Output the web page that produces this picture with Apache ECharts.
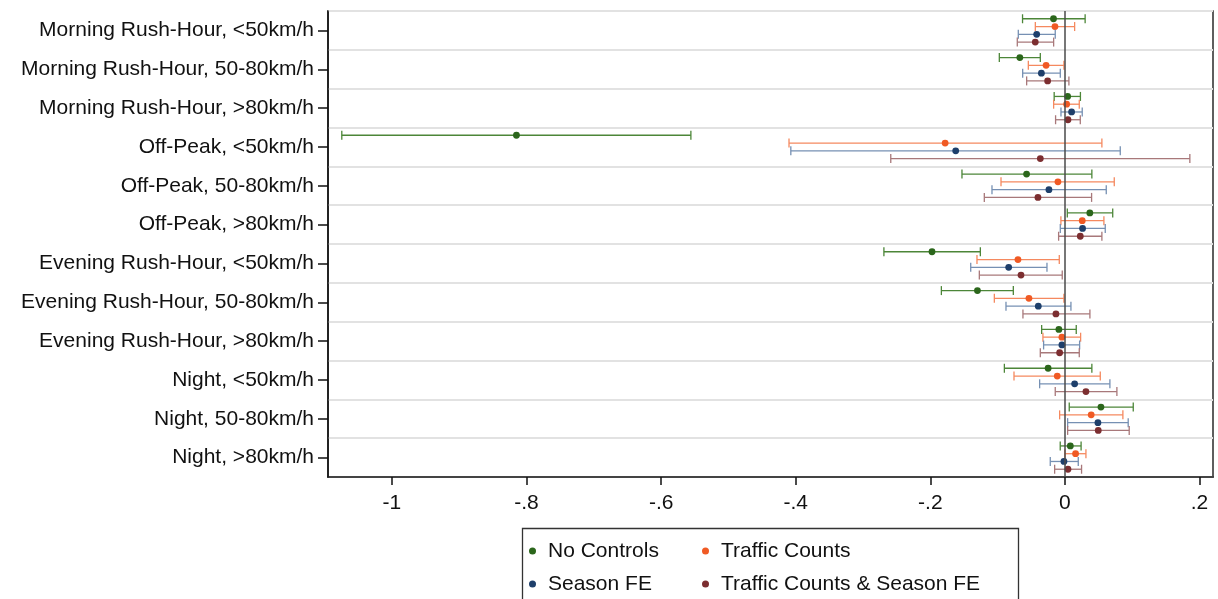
<!DOCTYPE html>
<html>
<head>
<meta charset="utf-8">
<style>
  html, body { margin: 0; padding: 0; background: #fff; }
  #chart { width: 1218px; height: 599px; }
</style>
<script src="https://cdn.jsdelivr.net/npm/echarts@6/dist/echarts.min.js"></script>
</head>
<body>
<div id="chart"></div>
<script>
  const categories = [
    'Morning Rush-Hour, <50km/h',
    'Morning Rush-Hour, 50-80km/h',
    'Morning Rush-Hour, >80km/h',
    'Off-Peak, <50km/h',
    'Off-Peak, 50-80km/h',
    'Off-Peak, >80km/h',
    'Evening Rush-Hour, <50km/h',
    'Evening Rush-Hour, 50-80km/h',
    'Evening Rush-Hour, >80km/h',
    'Night, <50km/h',
    'Night, 50-80km/h',
    'Night, >80km/h'
  ]

  const xTicks = [-1, -0.8, -0.6, -0.4, -0.2, 0, 0.2]

  // No Controls
  const ncEst = [-0.017, -0.067, 0.004, -0.815, -0.057, 0.037, -0.1975, -0.130, -0.009, -0.025, 0.0535, 0.008]
  const ncLo = [-0.063, -0.0975, -0.016, -1.0745, -0.153, 0.0035, -0.269, -0.1836, -0.0346, -0.090, 0.0064, -0.007]
  const ncHi = [0.030, -0.0366, 0.023, -0.5558, 0.040, 0.071, -0.1257, -0.0767, 0.0168, 0.040, 0.1015, 0.024]

  // Traffic Counts
  const tcEst = [-0.0148, -0.028, 0.0025, -0.178, -0.0104, 0.0257, -0.0698, -0.0535, -0.0045, -0.0114, 0.039, 0.0158]
  const tcLo = [-0.044, -0.0544, -0.0168, -0.410, -0.095, -0.006, -0.1307, -0.1049, -0.0327, -0.0757, -0.0079, 0.0]
  const tcHi = [0.0144, -0.0015, 0.0213, 0.0549, 0.0733, 0.0579, -0.0084, -0.0015, 0.0233, 0.0525, 0.0861, 0.0312]

  // Season FE
  const sfEst = [-0.042, -0.035, 0.0099, -0.1623, -0.0238, 0.0262, -0.0836, -0.0396, -0.0045, 0.0144, 0.049, -0.0015]
  const sfLo = [-0.0693, -0.0628, -0.0059, -0.4073, -0.1084, -0.0069, -0.140, -0.0876, -0.0317, -0.0376, 0.004, -0.0218]
  const sfHi = [-0.0144, -0.0069, 0.0257, 0.0822, 0.0614, 0.0599, -0.0267, 0.0089, 0.0218, 0.0668, 0.094, 0.0198]

  // Traffic Counts & Season FE
  const bothEst = [-0.0441, -0.0257, 0.0045, -0.0366, -0.0401, 0.0228, -0.0653, -0.0134, -0.0079, 0.0312, 0.0495, 0.0045]
  const bothLo = [-0.0708, -0.0569, -0.0139, -0.2588, -0.1198, -0.0094, -0.1272, -0.0624, -0.0366, -0.0144, 0.004, -0.0153]
  const bothHi = [-0.0168, 0.0059, 0.0228, 0.1856, 0.0396, 0.0549, -0.004, 0.0371, 0.0213, 0.0772, 0.0955, 0.0247]

  const font = '"Liberation Sans", Arial, Helvetica, sans-serif'

  function makeData (est, lo, hi) {
    let out = []
    for (let i = 0; i < categories.length; i++) {
      out.push([i, est[i], lo[i], hi[i]])
    }
    return out
  }

  // offset inside the category band (fraction of band height)
  function makeRender (offset, dotColor, lineColor) {
    return function (params, api) {
      let cat = api.value(0)
      let band = api.size([0, 1])[1]
      let y = api.coord([api.value(1), cat])[1] + offset * band
      let xe = api.coord([api.value(1), cat])[0]
      let xl = api.coord([api.value(2), cat])[0]
      let xh = api.coord([api.value(3), cat])[0]
      let ls = { stroke: lineColor, lineWidth: 1.3 }
      return {
        type: 'group',
        children: [
          { type: 'line', shape: { x1: xl, y1: y, x2: xh, y2: y }, style: ls },
          { type: 'line', shape: { x1: xl, y1: y - 4.5, x2: xl, y2: y + 4.5 }, style: ls },
          { type: 'line', shape: { x1: xh, y1: y - 4.5, x2: xh, y2: y + 4.5 }, style: ls },
          { type: 'circle', shape: { cx: xe, cy: y, r: 3.4 }, style: { fill: dotColor } }
        ]
      }
    }
  }

  let models = [
    { name: 'No Controls', dot: '#2b661b', line: '#4c8638', off: -0.3, data: makeData(ncEst, ncLo, ncHi) },
    { name: 'Traffic Counts', dot: '#f05a24', line: '#f5895f', off: -0.1, data: makeData(tcEst, tcLo, tcHi) },
    { name: 'Season FE', dot: '#1e3f6b', line: '#7690b3', off: 0.1, data: makeData(sfEst, sfLo, sfHi) },
    { name: 'Traffic Counts & Season FE', dot: '#7c2e30', line: '#a8787a', off: 0.3, data: makeData(bothEst, bothLo, bothHi) }
  ]

  let series = models.map(function (m, idx) {
    let s = {
      name: m.name,
      type: 'custom',
      itemStyle: { color: m.dot },
      encode: { y: 0, x: 1 },
      data: m.data,
      renderItem: makeRender(m.off, m.dot, m.line),
      z: 3
    }
    if (idx === 0) {
      s.markLine = {
        silent: true,
        symbol: 'none',
        label: { show: false },
        lineStyle: { color: '#4a4a4a', width: 1.5, type: 'solid' },
        data: [{ xAxis: 0 }]
      }
    }
    return s
  })

  let legendCommon = {
    orient: 'vertical',
    icon: 'circle',
    itemWidth: 7,
    itemHeight: 7,
    itemGap: 9,
    padding: 0,
    top: 539,
    textStyle: { fontSize: 21, fontFamily: font, color: '#111', lineHeight: 24, padding: [0, 0, 0, 7] }
  }

  let option = {
    animation: false,
    backgroundColor: '#fff',
    grid: {
      left: 328,
      right: 5,
      top: 11,
      bottom: 122,
      show: true,
      borderColor: '#2a2a2a',
      borderWidth: 1.5
    },
    legend: [
      Object.assign({}, legendCommon, { left: 529, data: ['No Controls', 'Season FE'] }),
      Object.assign({}, legendCommon, { left: 702, data: ['Traffic Counts', 'Traffic Counts & Season FE'] })
    ],
    graphic: [{
      type: 'rect',
      shape: { x: 522.5, y: 528.5, width: 496, height: 90 },
      style: { fill: 'none', stroke: '#333', lineWidth: 1.3 },
      silent: true
    }],
    xAxis: {
      type: 'value',
      min: -1.095,
      max: 0.22,
      axisLine: { show: true, onZero: false, lineStyle: { color: '#111', width: 1.5 } },
      axisTick: { show: true, length: 8, customValues: xTicks, lineStyle: { color: '#111', width: 1.5 } },
      axisLabel: {
        customValues: xTicks,
        margin: 16,
        fontSize: 21,
        fontFamily: font,
        color: '#111',
        formatter: function (v) {
          if (Math.abs(v) < 1e-9) return '0'
          let a = String(+Math.abs(v).toFixed(1)).replace(/^0/, '')
          return (v < 0 ? '-' : '') + a
        }
      },
      splitLine: { show: false }
    },
    yAxis: {
      type: 'category',
      inverse: true,
      data: categories,
      boundaryGap: true,
      axisLine: { show: true, onZero: false, lineStyle: { color: '#111', width: 1.5 } },
      axisTick: { show: true, alignWithLabel: true, length: 10, lineStyle: { color: '#111', width: 1.5 } },
      axisLabel: { margin: 14, fontSize: 21, fontFamily: font, color: '#111', interval: 0, padding: [4, 0, 0, 0] },
      splitLine: { show: true, lineStyle: { color: '#e2e2e2', width: 2 } }
    },
    series: series
  }

  let myChart = echarts.init(document.getElementById('chart'), null, { renderer: 'canvas' })
  myChart.setOption(option)
</script>
</body>
</html>
